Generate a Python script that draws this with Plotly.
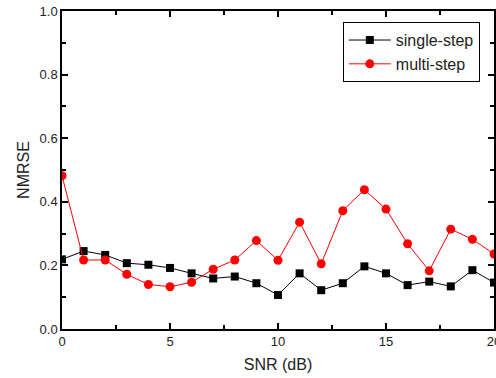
import plotly.graph_objects as go

snr = list(range(21))
single_step = [0.219, 0.245, 0.233, 0.207, 0.202, 0.192, 0.175, 0.159, 0.165, 0.144,
               0.107, 0.175, 0.122, 0.144, 0.197, 0.175, 0.138, 0.149, 0.134, 0.185, 0.146]
multi_step = [0.482, 0.217, 0.217, 0.172, 0.140, 0.133, 0.147, 0.188, 0.217, 0.278,
              0.216, 0.336, 0.205, 0.372, 0.438, 0.377, 0.268, 0.183, 0.314, 0.282, 0.236]

fig = go.Figure()
fig.add_trace(go.Scatter(x=snr, y=single_step, mode="lines+markers", name="single-step",
                         line=dict(color="black", width=1),
                         marker=dict(symbol="square", size=8, color="black")))
fig.add_trace(go.Scatter(x=snr, y=multi_step, mode="lines+markers", name="multi-step",
                         line=dict(color="red", width=1),
                         marker=dict(symbol="circle", size=9, color="red")))

axis_common = dict(showline=True, linecolor="black", linewidth=1.5, mirror="ticks",
                   ticks="inside", ticklen=6, tickwidth=1.5, tickcolor="black", showgrid=False,
                   zeroline=False, tickfont=dict(size=13, color="#222"),
                   ticklabeloverflow="allow", automargin=False)
fig.update_xaxes(range=[0, 20], tick0=0, dtick=5,
                 minor=dict(ticks="inside", ticklen=4, tickwidth=1.5, dtick=2.5, tickcolor="black", showgrid=False),
                 title=dict(text="SNR (dB)", font=dict(size=16, color="#222"), standoff=10),
                 **axis_common)
fig.update_yaxes(range=[0, 1], tick0=0, dtick=0.2, tickformat=".1f",
                 minor=dict(ticks="inside", ticklen=4, tickwidth=1.5, dtick=0.1, tickcolor="black", showgrid=False),
                 title=dict(text="NMRSE", font=dict(size=16, color="#222"), standoff=6),
                 **axis_common)

fig.update_layout(width=496, height=378, margin=dict(l=62, r=2, t=11, b=49, autoexpand=False),
                  paper_bgcolor="white", plot_bgcolor="white",
                  font=dict(family="Liberation Sans, Arial, sans-serif", color="#222"),
                  legend=dict(x=0.65, y=0.965, xanchor="left", yanchor="top",
                              bordercolor="black", borderwidth=1, bgcolor="white",
                              font=dict(size=16), tracegroupgap=0, itemwidth=42))

fig.write_html("out.html")
